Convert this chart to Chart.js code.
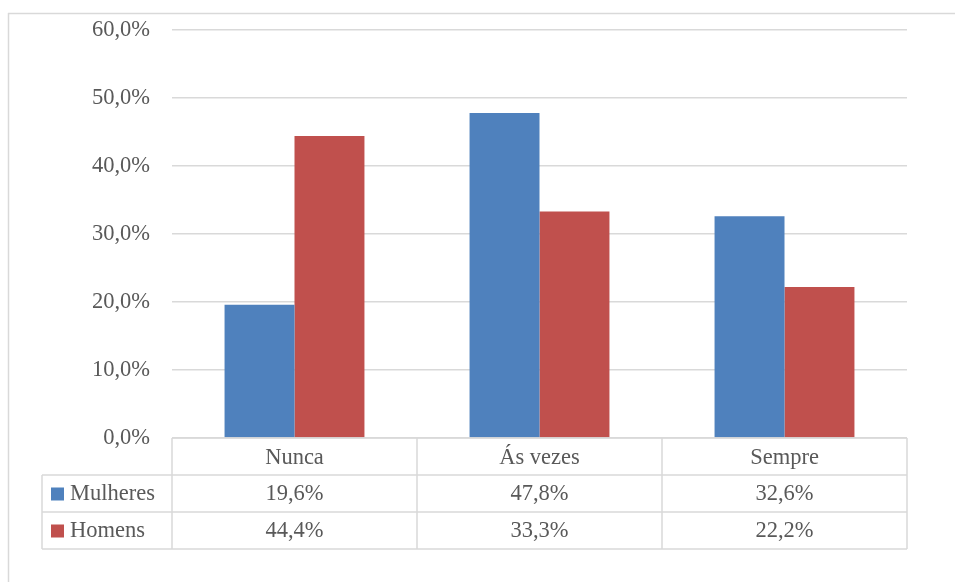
<!DOCTYPE html>
<html>
<head>
<meta charset="utf-8">
<script src="https://cdn.jsdelivr.net/npm/chart.js@4"></script>
<style>
html,body{margin:0;padding:0;background:#fff;}
#wrap{width:955px;height:582px;position:relative;}
</style>
</head>
<body>
<div id="wrap"><canvas id="c" width="955" height="582"></canvas></div>
<script>
const categories = ["Nunca", "Ás vezes", "Sempre"];
const seriesNames = ["Mulheres", "Homens"];
const mulheres = [19.6, 47.8, 32.6];
const homens = [44.4, 33.3, 22.2];
const seriesColors = ["#4f81bd", "#c0504d"];

const FONT = "'Liberation Serif', 'DejaVu Serif', serif";
const FSIZE = 22.5;
const TEXT = "#595959";
const LINE = "#d9d9d9";

function fmt(v){ return v.toFixed(1).replace('.', ',') + '%'; }

const tablePlugin = {
  id: 'dataTable',
  afterDraw(chart){
    const ctx = chart.ctx;
    const xs = chart.scales.x;
    const area = chart.chartArea;
    const n = categories.length;
    const colW = (area.right - area.left) / n;
    const rowH = 37;
    const top = area.bottom;
    const legendLeft = 42;
    ctx.save();
    ctx.strokeStyle = LINE;
    ctx.lineWidth = 1.5;
    ctx.beginPath();
    ctx.moveTo(8, 13.5); ctx.lineTo(955, 13.5);
    ctx.moveTo(8.5, 13); ctx.lineTo(8.5, 582);
    ctx.stroke();
    ctx.beginPath();
    ctx.moveTo(area.left, top); ctx.lineTo(area.right, top);
    for (let r = 1; r <= 3; r++) {
      const y = top + r * rowH;
      ctx.moveTo(legendLeft, y); ctx.lineTo(area.right, y);
    }
    ctx.moveTo(legendLeft, top + rowH); ctx.lineTo(legendLeft, top + 3 * rowH);
    for (let i = 0; i <= n; i++) {
      const x = area.left + i * colW;
      ctx.moveTo(x, top); ctx.lineTo(x, top + 3 * rowH);
    }
    ctx.stroke();
    ctx.fillStyle = TEXT;
    ctx.font = FSIZE + "px " + FONT;
    ctx.textAlign = 'center';
    ctx.textBaseline = 'middle';
    categories.forEach((c, i) => {
      ctx.fillText(c, xs.getPixelForValue(i), top + rowH / 2 + 2);
    });
    const data = [mulheres, homens];
    data.forEach((arr, r) => {
      const cy = top + (r + 1) * rowH + rowH / 2 + 1;
      arr.forEach((v, i) => {
        ctx.fillText(fmt(v), xs.getPixelForValue(i), cy);
      });
      ctx.fillStyle = seriesColors[r];
      ctx.fillRect(51, cy - 7, 13, 13);
      ctx.fillStyle = TEXT;
      ctx.textAlign = 'left';
      ctx.fillText(seriesNames[r], 70, cy);
      ctx.textAlign = 'center';
    });
    ctx.restore();
  }
};

new Chart(document.getElementById('c'), {
  type: 'bar',
  data: {
    labels: categories,
    datasets: [
      { label: seriesNames[0], data: mulheres, backgroundColor: seriesColors[0], borderWidth: 0 },
      { label: seriesNames[1], data: homens, backgroundColor: seriesColors[1], borderWidth: 0 }
    ]
  },
  options: {
    responsive: false,
    animation: false,
    devicePixelRatio: 1,
    layout: { padding: { top: 30, right: 48, bottom: 144, left: 0 } },
    plugins: { legend: { display: false }, tooltip: { enabled: false } },
    scales: {
      x: {
        ticks: { display: false },
        grid: { display: false, drawTicks: false },
        border: { display: false }
      },
      y: {
        min: 0, max: 60,
        ticks: {
          stepSize: 10,
          color: TEXT,
          font: { family: FONT, size: FSIZE },
          padding: 22,
          callback: v => fmt(v)
        },
        grid: { color: LINE, lineWidth: 1.5, drawTicks: false },
        border: { display: false },
        afterFit(scale){ scale.width = 172; scale.paddingTop = 0; scale.paddingBottom = 0; }
      }
    },
    datasets: { bar: { barPercentage: 1.0, categoryPercentage: 0.571 } }
  },
  plugins: [tablePlugin]
});
</script>
</body>
</html>
